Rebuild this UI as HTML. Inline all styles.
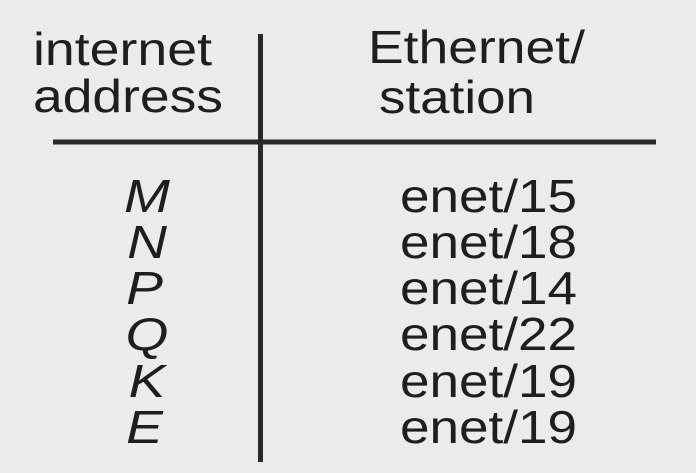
<!DOCTYPE html>
<html><head><style>
html,body{margin:0;padding:0;background:#ebebeb;}
svg{display:block;}
text{font-family:"Liberation Sans",Arial,sans-serif;font-size:46px;fill:#1e1e1e;}
</style></head><body>
<svg width="696" height="473" viewBox="0 0 696 473">
<rect width="696" height="473" fill="#ebebeb"/>
<line x1="260.5" y1="34" x2="260.5" y2="462" stroke="#2a2a2a" stroke-width="5"/>
<line x1="53" y1="142" x2="656" y2="142" stroke="#2a2a2a" stroke-width="5"/>
<text x="33" y="65" textLength="179" lengthAdjust="spacingAndGlyphs">internet</text>
<text x="33" y="112" textLength="190" lengthAdjust="spacingAndGlyphs">address</text>
<text x="368" y="63" textLength="217" lengthAdjust="spacingAndGlyphs">Ethernet/</text>
<text x="379" y="113" textLength="156" lengthAdjust="spacingAndGlyphs">station</text>
<g text-anchor="middle" style="font-style:italic" transform="translate(147,0) scale(1.2,1) translate(-147,0)">
<text x="147" y="212">M</text>
<text x="147" y="258">N</text>
<text x="145" y="304">P</text>
<text x="147" y="350">Q</text>
<text x="147" y="397">K</text>
<text x="145" y="443">E</text>
</g>
<text x="400" y="212" textLength="177" lengthAdjust="spacingAndGlyphs">enet/15</text>
<text x="400" y="258" textLength="177" lengthAdjust="spacingAndGlyphs">enet/18</text>
<text x="400" y="304" textLength="177" lengthAdjust="spacingAndGlyphs">enet/14</text>
<text x="400" y="350" textLength="177" lengthAdjust="spacingAndGlyphs">enet/22</text>
<text x="400" y="397" textLength="177" lengthAdjust="spacingAndGlyphs">enet/19</text>
<text x="400" y="443" textLength="177" lengthAdjust="spacingAndGlyphs">enet/19</text>
</svg>
</body></html>
